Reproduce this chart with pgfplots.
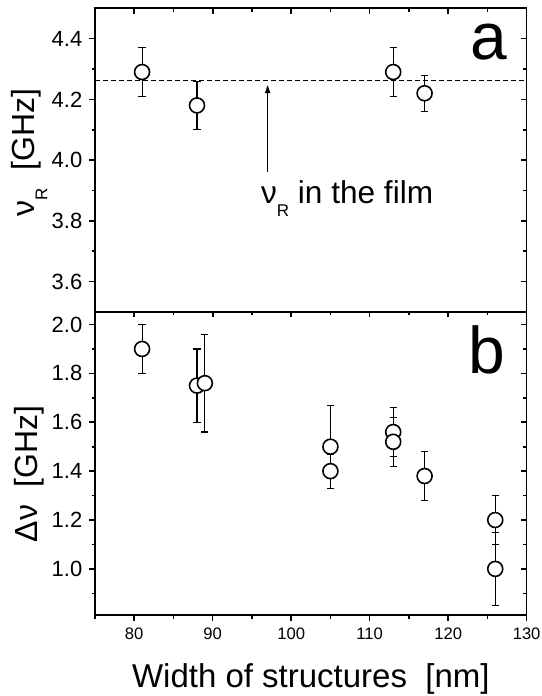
\documentclass[border=0pt]{standalone}
\usepackage{fontspec}
\setmainfont{Liberation Sans}
\usepackage{pgfplots}
\pgfplotsset{compat=1.18}
\usetikzlibrary{arrows.meta}

\newcommand{\subR}{\raisebox{-6.5pt}{\fontsize{8.5}{9}\selectfont R}}

\pgfplotsset{
  panel/.style={
    scale only axis,
    width=215.9pt, height=151.8pt,
    xmin=75, xmax=130,
    xtick={80,90,100,110,120,130},
    minor xtick={75,85,95,105,115,125},
    axis line style={line width=0.85pt},
    major tick length=2.8pt, minor tick length=1.7pt,
    every tick/.append style={line width=0.8pt, black},
    /pgf/number format/assume math mode=true,
    xticklabel style={font=\fontsize{8.3}{10}\selectfont},
    yticklabel style={font=\fontsize{11}{12}\selectfont,
      /pgf/number format/fixed, /pgf/number format/fixed zerofill,
      /pgf/number format/precision=1},
  },
  outer/.style={panel, xtick pos=lower, ytick pos=left, tick align=outside},
  inner/.style={panel, xtick pos=upper, ytick pos=right, tick align=inside,
    xticklabels={}, yticklabels={}},
  dat/.style={black, only marks, mark=*, mark size=3.75pt,
    mark options={fill=white, draw=black, line width=0.8pt},
    error bars/.cd, y dir=both, y explicit,
    error bar style={line width=0.55pt, black},
    error mark options={rotate=90, mark size=1.8pt, line width=0.55pt, black}},
}

\begin{document}
\begin{tikzpicture}
\useasboundingbox (-47.5pt,-40.35pt) rectangle (223.5pt,307.75pt);

% panel b
\begin{axis}[outer, name=bot, at={(0,0)}, anchor=south west,
  ymin=0.81, ymax=2.052,
  ytick={1.0,1.2,1.4,1.6,1.8,2.0},
  minor ytick={0.9,1.1,1.3,1.5,1.7,1.9},
  xlabel={Width of structures\ \ [nm]},
  ylabel={Δν\ \ [GHz]},
  every axis x label/.style={at={(axis description cs:0.5,-0.237)}, anchor=base,
    font=\fontsize{16.5}{19}\selectfont},
  every axis y label/.style={at={(axis description cs:-0.152,0.466)}, rotate=90,
    anchor=center, font=\fontsize{16}{19}\selectfont},
]
\addplot+[dat] coordinates {
  (81,1.90) +- (0,0.10)
  (88,1.75) +- (0,0.15)
  (89,1.76) +- (0,0.20)
  (105,1.50) +- (0,0.17)
  (105,1.40) +- (0,0.07)
  (113,1.56) +- (0,0.10)
  (113,1.52) +- (0,0.10)
  (117,1.38) +- (0,0.10)
  (126,1.20) +- (0,0.10)
  (126,1.00) +- (0,0.15)
};
\node[anchor=base east, inner sep=0pt, font=\fontsize{33}{33}\selectfont]
  at (rel axis cs:0.952,0.798) {b};
\end{axis}
\begin{axis}[inner, at={(0,0)}, anchor=south west,
  ymin=0.81, ymax=2.052,
  ytick={1.0,1.2,1.4,1.6,1.8,2.0},
  minor ytick={0.9,1.1,1.3,1.5,1.7,1.9}]
\end{axis}

% panel a
\begin{axis}[outer, name=top, at={(bot.north west)}, anchor=south west,
  ymin=3.5, ymax=4.5,
  ytick={3.6,3.8,4.0,4.2,4.4},
  minor ytick={3.7,3.9,4.1,4.3},
  xticklabels={},
  ylabel={ν\subR\ \ [GHz]},
  every axis y label/.style={at={(axis description cs:-0.152,0.524)}, rotate=90,
    anchor=center, font=\fontsize{16}{19}\selectfont},
]
\addplot[black, line width=0.5pt, dash pattern=on 2.6pt off 1.4pt]
  coordinates {(75,4.262) (130,4.262)};
\addplot+[dat] coordinates {
  (81,4.29) +- (0,0.08)
  (88,4.18) +- (0,0.08)
  (113,4.29) +- (0,0.08)
  (117,4.22) +- (0,0.06)
};
\draw[line width=0.6pt, -{Triangle[length=4pt,width=2.6pt]}]
  (axis cs:97,3.96) -- (axis cs:97,4.247);
\node[anchor=base west, inner sep=0pt, font=\fontsize{15.8}{18}\selectfont]
  at (rel axis cs:0.384,0.356) {ν\subR\ in the film};
\node[anchor=base east, inner sep=0pt, font=\fontsize{33}{33}\selectfont]
  at (rel axis cs:0.956,0.83) {a};
\end{axis}
\begin{axis}[inner, at={(bot.north west)}, anchor=south west,
  ymin=3.5, ymax=4.5,
  ytick={3.6,3.8,4.0,4.2,4.4},
  minor ytick={3.7,3.9,4.1,4.3}]
\end{axis}
\end{tikzpicture}
\end{document}
